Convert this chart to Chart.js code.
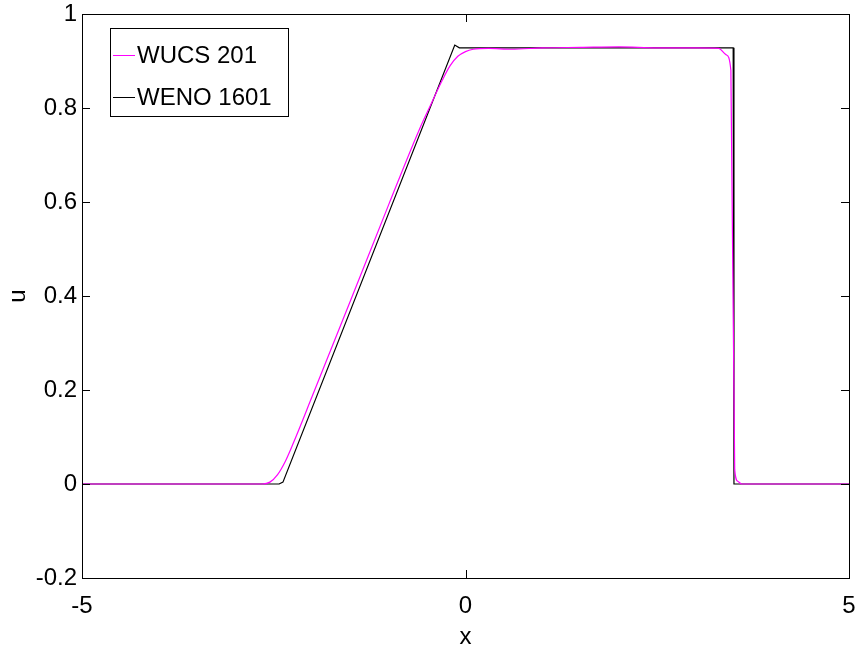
<!DOCTYPE html>
<html>
<head>
<meta charset="utf-8">
<script src="https://cdn.jsdelivr.net/npm/chart.js@4/dist/chart.umd.min.js"></script>
<style>
  html, body { margin: 0; padding: 0; background: #fff; }
  #wrap { width: 861px; height: 654px; }
</style>
</head>
<body>
<div id="wrap"><canvas id="plot" width="861" height="654"></canvas></div>
<script>
// WUCS 201 (magenta)
const wucsX = [-5, -2.65, -2.55, -2.45, -2.35, -2.25, -2.0, -1.5, -1.0, -0.6, -0.45, -0.3, -0.2, -0.1, 0.0, 0.1, 0.3, 0.6, 1.0, 1.5, 2.0, 2.5, 3.0, 3.3, 3.4, 3.46, 3.51, 3.55, 3.6, 5];
const wucsU = [0, 0, 0.004, 0.02, 0.048, 0.085, 0.186, 0.39, 0.595, 0.755, 0.808, 0.86, 0.89, 0.91, 0.92, 0.925, 0.927, 0.925, 0.928, 0.929, 0.93, 0.928, 0.928, 0.927, 0.913, 0.88, 0.03, 0.006, 0, 0];

// WENO 1601 (black)
const wenoX = [-5, -2.43, -2.38, -0.14, -0.08, 3.49, 3.5, 5];
const wenoU = [0, 0, 0.004, 0.934, 0.928, 0.928, 0, 0];

const xTicks = [-5, 0, 5];
const yTicks = [-0.2, 0, 0.2, 0.4, 0.6, 0.8, 1];

const legendNames = ['WUCS 201', 'WENO 1601'];
const lineColors = ['#ff00ff', '#000000'];

const FONT = '"Liberation Sans", Arial, sans-serif';
const FONT_SIZE = 24;

function toPoints(xs, ys) {
    return xs.map((x, i) => ({ x: x, y: ys[i] }));
}

// frame, inward ticks and legend box like the original figure
const framePlugin = {
    id: 'frame',
    afterDraw(chart) {
        const ctx = chart.ctx;
        const a = chart.chartArea;
        const xs = chart.scales.x, ys = chart.scales.y;
        ctx.save();
        ctx.strokeStyle = '#000';
        ctx.lineWidth = 1;
        ctx.strokeRect(Math.round(a.left) + 0.5, Math.round(a.top) + 0.5,
            Math.round(a.right - a.left), Math.round(a.bottom - a.top));
        const tl = 8;
        ctx.beginPath();
        xTicks.forEach(v => {
            const px = Math.round(xs.getPixelForValue(v)) + 0.5;
            ctx.moveTo(px, a.bottom); ctx.lineTo(px, a.bottom - tl);
            ctx.moveTo(px, a.top); ctx.lineTo(px, a.top + tl);
        });
        yTicks.forEach(v => {
            const py = Math.round(ys.getPixelForValue(v)) + 0.5;
            ctx.moveTo(a.left, py); ctx.lineTo(a.left + tl, py);
            ctx.moveTo(a.right, py); ctx.lineTo(a.right - tl, py);
        });
        ctx.stroke();

        // legend
        const lx = 110.5, ly = 28.5, lw = 178, lh = 88;
        ctx.fillStyle = '#fff';
        ctx.fillRect(lx, ly, lw, lh);
        ctx.strokeRect(lx, ly, lw, lh);
        ctx.font = FONT_SIZE + 'px ' + FONT;
        ctx.textBaseline = 'middle';
        ctx.textAlign = 'left';
        const rows = [55, 97];
        legendNames.forEach((name, i) => {
            ctx.strokeStyle = lineColors[i];
            ctx.beginPath();
            ctx.moveTo(113, rows[i] + 0.5);
            ctx.lineTo(135, rows[i] + 0.5);
            ctx.stroke();
            ctx.fillStyle = '#000';
            ctx.fillText(name, 137, rows[i] + 1);
        });
        ctx.restore();
    }
};

const ctx = document.getElementById('plot').getContext('2d');
const chart = new Chart(ctx, {
    type: 'scatter',
    data: {
        datasets: [{
            label: legendNames[0],
            data: toPoints(wucsX, wucsU),
            showLine: true,
            borderColor: lineColors[0],
            borderWidth: 1.2,
            pointRadius: 0,
            cubicInterpolationMode: 'monotone'
        }, {
            label: legendNames[1],
            data: toPoints(wenoX, wenoU),
            showLine: true,
            borderColor: lineColors[1],
            borderWidth: 1.2,
            pointRadius: 0,
            tension: 0
        }]
    },
    options: {
        responsive: false,
        animation: false,
        layout: { padding: { left: 0, right: 12, top: 14, bottom: 0 } },
        plugins: {
            legend: { display: false },
            tooltip: { enabled: false }
        },
        scales: {
            x: {
                type: 'linear',
                min: -5,
                max: 5,
                afterBuildTicks(scale) { scale.ticks = xTicks.map(v => ({ value: v })); },
                afterFit(scale) {
                    scale.height = 76;
                    scale.paddingLeft = 0;
                    scale.paddingRight = 0;
                },
                grid: { display: false, drawTicks: false },
                border: { display: false },
                ticks: {
                    color: '#000',
                    font: { family: FONT, size: FONT_SIZE },
                    padding: 14,
                    maxRotation: 0
                },
                title: {
                    display: true,
                    text: 'x',
                    color: '#000',
                    font: { family: FONT, size: FONT_SIZE },
                    padding: { top: 0, bottom: 2 }
                }
            },
            y: {
                type: 'linear',
                min: -0.2,
                max: 1,
                afterBuildTicks(scale) { scale.ticks = yTicks.map(v => ({ value: v })); },
                afterFit(scale) {
                    scale.width = 82;
                    scale.paddingTop = 0;
                    scale.paddingBottom = 0;
                },
                grid: { display: false, drawTicks: false },
                border: { display: false },
                ticks: {
                    color: '#000',
                    font: { family: FONT, size: FONT_SIZE },
                    padding: 5,
                    callback: v => String(Math.round(v * 10) / 10)
                },
                title: {
                    display: true,
                    text: 'u',
                    color: '#000',
                    font: { family: FONT, size: FONT_SIZE },
                    padding: { top: 4, bottom: 0 }
                }
            }
        }
    },
    plugins: [framePlugin]
});
</script>
</body>
</html>
